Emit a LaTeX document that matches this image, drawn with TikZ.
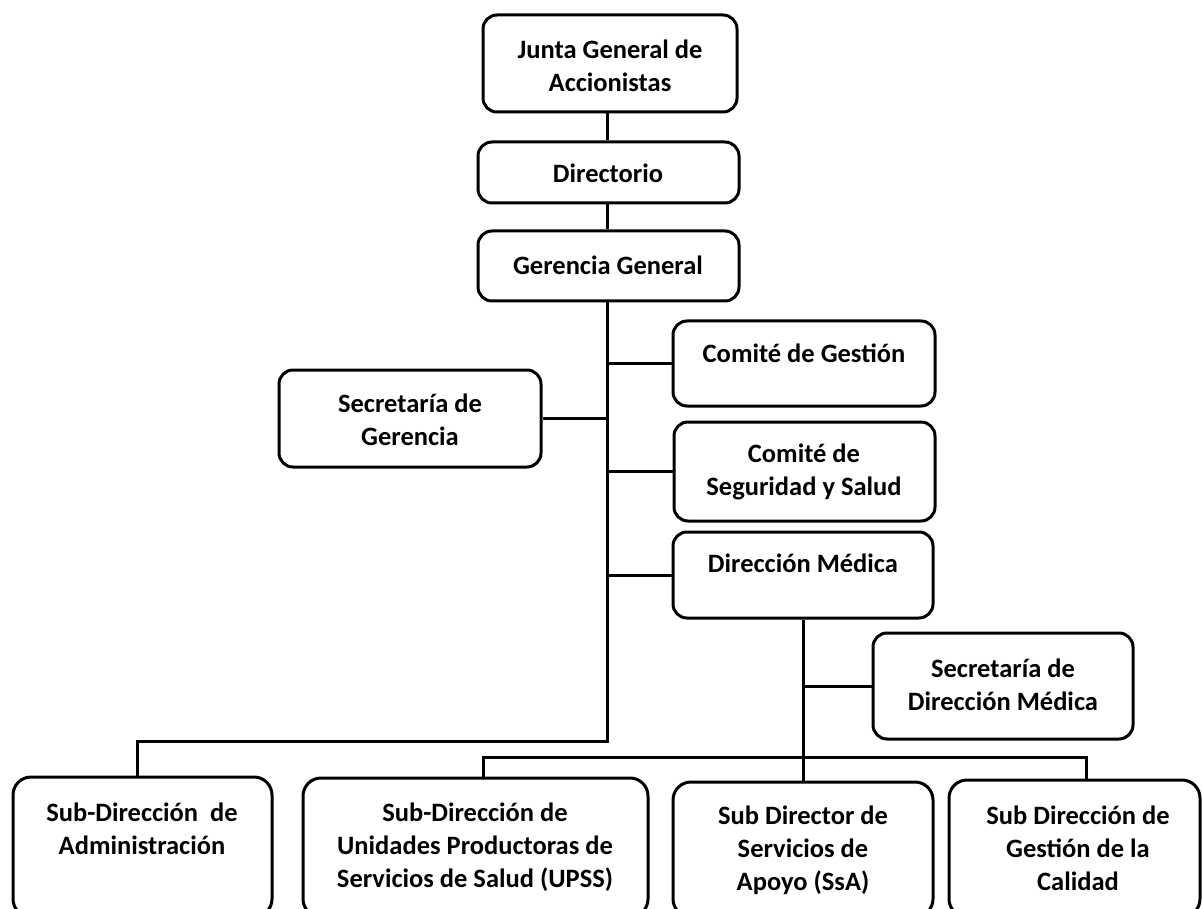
\documentclass[tikz,border=0pt]{standalone}
\usepackage{fontspec}
\setmainfont{Carlito}
\usetikzlibrary{fit}
\tikzset{
  orgbox/.style={draw, line width=3pt, rounded corners=14pt, inner sep=0pt, fill=white},
  bigbox/.style={orgbox, rounded corners=18pt},
  txt/.style={font=\fontsize{26.5}{33}\selectfont\bfseries, align=center, inner sep=0pt},
  conn/.style={line width=3pt},
}
\begin{document}
\begin{tikzpicture}[x=1pt,y=-1pt]
\useasboundingbox (0,0) rectangle (1202,909);
\clip (0,0) rectangle (1202,909);
% boxes
\node[orgbox, fit={(483,15) (737,112)}] (junta) {};
\node[txt] (junta-t) at (610,66) {Junta General de\\Accionistas};
\node[orgbox, fit={(478,142) (739,203)}] (dir) {};
\node[txt] (dir-t) at (608,173) {Directorio};
\node[orgbox, fit={(478,231) (739,301)}] (ger) {};
\node[txt] (ger-t) at (608,265) {Gerencia General};
\node[orgbox, fit={(673,321) (935,406)}] (cg) {};
\node[txt] (cg-t) at (804,353) {Comité de Gestión};
\node[orgbox, fit={(279,370) (541,467)}] (secg) {};
\node[txt] (secg-t) at (410,420) {Secretaría de\\Gerencia};
\node[orgbox, fit={(674,422) (935,521)}] (cs) {};
\node[txt] (cs-t) at (804,472) {Comité de\\Seguridad y Salud};
\node[orgbox, fit={(673,532) (933,618)}] (dm) {};
\node[txt] (dm-t) at (803,563) {Dirección Médica};
\node[orgbox, fit={(873,633) (1133,739)}] (sdm) {};
\node[txt] (sdm-t) at (1003,685) {Secretaría de\\Dirección Médica};
\node[bigbox, fit={(13,777) (272,917)}] (adm) {};
\node[txt] (adm-t) at (142,829) {Sub-Dirección\ \ de\\Administración};
\node[bigbox, fit={(303,778) (648,917)}] (upss) {};
\node[txt] (upss-t) at (475,847) {Sub-Dirección de\\Unidades Productoras de\\Servicios de Salud (UPSS)};
\node[bigbox, fit={(673,782) (933,917)}] (sd) {};
\node[txt] (sd-t) at (803,850) {Sub Director de\\Servicios de\\Apoyo (SsA)};
\node[bigbox, fit={(949,780) (1200,917)}] (gc) {};
\node[txt] (gc-t) at (1078,848) {Sub Dirección de\\Gestión de la\\Calidad};
% connector coordinates
\coordinate (t1) at (607,741);
\coordinate (a1) at (137,741);
\coordinate (m1) at (803,757);
\coordinate (u1) at (483,757);
\coordinate (g1) at (1086,757);
% connectors
\draw[conn] (junta.south -| t1) -- (dir.north -| t1);
\draw[conn] (dir.south -| t1) -- (ger.north -| t1);
\draw[conn] (ger.south -| t1) -- (t1) -- (a1) -- (adm.north -| a1);
\draw[conn] (cg.west) -- (cg.west -| t1);
\draw[conn] (secg.east) -- (secg.east -| t1);
\draw[conn] (cs.west) -- (cs.west -| t1);
\draw[conn] (dm.west) -- (dm.west -| t1);
\draw[conn] (dm.south -| m1) -- (sd.north -| m1);
\draw[conn] (sdm.west) -- (sdm.west -| m1);
\draw[conn] (upss.north -| u1) -- (u1) -- (g1) -- (gc.north -| g1);
\end{tikzpicture}
\end{document}
